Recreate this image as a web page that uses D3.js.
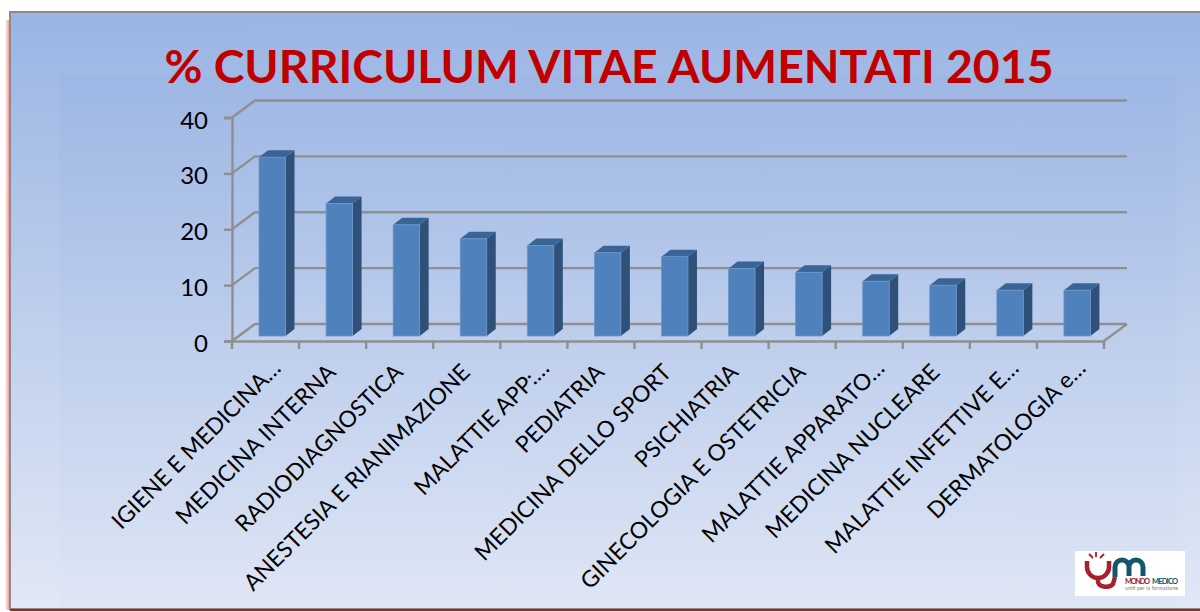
<!DOCTYPE html>
<html>
<head>
<meta charset="utf-8">
<script src="https://cdn.jsdelivr.net/npm/d3@7"></script>
<style>
  html, body { margin: 0; padding: 0; background: #fff; }
  svg { display: block; }
  text { font-family: Lato, "Open Sans", sans-serif; }
</style>
</head>
<body>
<div id="chart"></div>
<script>
const categories = ["IGIENE E MEDICINA…", "MEDICINA INTERNA", "RADIODIAGNOSTICA", "ANESTESIA E RIANIMAZIONE",
  "MALATTIE APP:…", "PEDIATRIA", "MEDICINA DELLO SPORT", "PSICHIATRIA", "GINECOLOGIA E OSTETRICIA",
  "MALATTIE APPARATO…", "MEDICINA NUCLEARE", "MALATTIE INFETTIVE E…", "DERMATOLOGIA e…"];
const values = [32, 23.7, 19.9, 17.4, 16.2, 14.9, 14.2, 12.1, 11.4, 9.8, 9.1, 8.2, 8.2];
const yTicks = [0, 10, 20, 30, 40];
const titleText = "% CURRICULUM VITAE AUMENTATI 2015";

const width = 1200, height = 612;
const plot = { left: 232, right: 1104, top: 117.5, bottom: 341 };
const depth = { x: 23, y: -17 };   // wall offset of the fake 3d box
const barDepth = { x: 9, y: -7 };
const axisColor = "#8f8f8f";
const axisWidth = 2.4;

const svg = d3.select("#chart").append("svg")
  .attr("width", width)
  .attr("height", height);

const defs = svg.append("defs");
const bg = defs.append("linearGradient").attr("id", "bg").attr("x1", 0).attr("y1", 0).attr("x2", 0).attr("y2", 1);
bg.append("stop").attr("offset", "0%").attr("stop-color", "#9ab4e3");
bg.append("stop").attr("offset", "100%").attr("stop-color", "#e1e8f6");
const inner = defs.append("linearGradient").attr("id", "inner").attr("x1", 0).attr("y1", 0).attr("x2", 0).attr("y2", 1);
inner.append("stop").attr("offset", "0%").attr("stop-color", "#9ab4e3");
inner.append("stop").attr("offset", "100%").attr("stop-color", "#dde5f5");
const glow = defs.append("linearGradient").attr("id", "glow").attr("x1", 0).attr("y1", 0).attr("x2", 1).attr("y2", 0);
glow.append("stop").attr("offset", "0%").attr("stop-color", "#ffffff");
glow.append("stop").attr("offset", "100%").attr("stop-color", "#f08080");

// slide background
svg.append("rect").attr("x", 5).attr("y", 20).attr("width", 5).attr("height", 590).attr("fill", "url(#glow)");
svg.append("rect").attr("x", 10).attr("y", 12).attr("width", 1195).attr("height", 597)
  .attr("fill", "url(#bg)").attr("stroke", "#8c8c8c").attr("stroke-width", 2);
svg.append("rect").attr("x", 10).attr("y", 609).attr("width", 1190).attr("height", 2).attr("fill", "#b51a1a");
svg.append("rect").attr("x", 59).attr("y", 76).attr("width", 1118).attr("height", 532).attr("fill", "url(#inner)").attr("opacity", 0.55);

svg.append("text")
  .attr("x", 609).attr("y", 83)
  .attr("text-anchor", "middle")
  .attr("font-size", 46.4).attr("font-weight", 700)
  .attr("fill", "#c00000")
  .text(titleText);

const x = d3.scaleBand().domain(categories).range([plot.left, plot.right]);
const y = d3.scaleLinear().domain([0, 40]).range([plot.bottom, plot.top]);

// back wall gridlines and the slanted connectors
const grid = svg.append("g").attr("fill", "none").attr("stroke", axisColor).attr("stroke-width", axisWidth);
yTicks.forEach(t => {
  grid.append("path").attr("d", d3.line()([
    [plot.left, y(t)],
    [plot.left + depth.x, y(t) + depth.y],
    [plot.right + depth.x, y(t) + depth.y]
  ]));
});
grid.append("path").attr("d", d3.line()([
  [plot.right, plot.bottom],
  [plot.right + depth.x, plot.bottom + depth.y]
]));

// axes
const yAxis = svg.append("g")
  .attr("transform", `translate(${plot.left},0)`)
  .call(d3.axisLeft(y).tickValues(yTicks).tickSize(8).tickPadding(16));
const xAxis = svg.append("g")
  .attr("transform", `translate(0,${plot.bottom})`)
  .call(d3.axisBottom(x).tickSize(0).tickFormat(""));
[yAxis, xAxis].forEach(a => {
  a.select(".domain").attr("stroke", axisColor).attr("stroke-width", axisWidth);
  a.selectAll("line").attr("stroke", axisColor).attr("stroke-width", axisWidth);
});
yAxis.selectAll("text").attr("font-size", 24).attr("fill", "#000").attr("dy", "0.44em");

// tick marks between the bands
svg.append("g").selectAll("line")
  .data(categories.concat(["end"]))
  .join("line")
  .attr("x1", (d, i) => i < categories.length ? x(d) : plot.right)
  .attr("x2", (d, i) => i < categories.length ? x(d) : plot.right)
  .attr("y1", plot.bottom)
  .attr("y2", plot.bottom + 8)
  .attr("stroke", axisColor).attr("stroke-width", axisWidth);

// rotated category labels, the truncated ones sit a bit further along
const labelShift = d => d.endsWith("…") ? 12 : 0;
svg.append("g").selectAll("text")
  .data(categories)
  .join("text")
  .attr("transform", d => `translate(${x(d) + x.bandwidth() / 2 - 1 + labelShift(d)},${plot.bottom + 27 - labelShift(d) / 3}) rotate(-45)`)
  .attr("text-anchor", "end")
  .attr("dy", "0.35em")
  .attr("font-size", 22.8)
  .attr("fill", "#000")
  .text(d => d);

// bars: front, side and top faces
const barW = 26.5;
const barX = d => x(d) + 27;
const barBase = plot.bottom - 5;
const barTop = (v) => barBase - (y(0) - y(v));
const bars = svg.append("g").selectAll("g")
  .data(categories.map((c, i) => ({ c, v: values[i] })))
  .join("g");

bars.append("path")
  .attr("fill", "#2f5078")
  .attr("d", d => {
    const l = barX(d.c) + barW, t = barTop(d.v);
    return d3.line()([[l, t], [l + barDepth.x, t + barDepth.y], [l + barDepth.x, barBase + barDepth.y], [l, barBase]]) + "Z";
  });
bars.append("path")
  .attr("fill", "#3b6496")
  .attr("d", d => {
    const l = barX(d.c), t = barTop(d.v);
    return d3.line()([[l, t], [l + barDepth.x, t + barDepth.y], [l + barW + barDepth.x, t + barDepth.y], [l + barW, t]]) + "Z";
  });
bars.append("rect")
  .attr("x", d => barX(d.c))
  .attr("y", d => barTop(d.v))
  .attr("width", barW)
  .attr("height", d => barBase - barTop(d.v))
  .attr("fill", "#4f81bd")
  .attr("stroke", "#6d97cb").attr("stroke-width", 0.8);

// logo
const logo = svg.append("g").attr("transform", "translate(1075,551)");
logo.append("rect").attr("width", 110).attr("height", 45).attr("fill", "#fff");
logo.append("path").attr("fill", "none").attr("stroke", "#a81f2e").attr("stroke-width", 4.5)
  .attr("d", "M12,10 V16 A11,11 0 0 0 34,16 V10 M23,27 V30 A8,5 0 0 0 38,33 L40,26");
logo.append("path").attr("fill", "none").attr("stroke", "#a81f2e").attr("stroke-width", 1.8)
  .attr("d", "M21,1 V6 M14,3 L18,7 M29,3 L25,7");
logo.append("path").attr("fill", "none").attr("stroke", "#14566b").attr("stroke-width", 5)
  .attr("d", "M40,26 V16 A7,7 0 0 1 54,16 V25 M54,16 A7,7 0 0 1 68,16 V25");
logo.append("text").attr("x", 50).attr("y", 33).attr("font-size", 7.5).attr("font-weight", 700).attr("fill", "#a81f2e")
  .attr("textLength", 25).text("MONDO");
logo.append("text").attr("x", 77).attr("y", 33).attr("font-size", 7.5).attr("font-weight", 700).attr("fill", "#14566b")
  .attr("textLength", 26).text("MEDICO");
logo.append("text").attr("x", 50).attr("y", 38.5).attr("font-size", 5).attr("fill", "#777")
  .attr("textLength", 53).text("uniti per la formazione");
</script>
</body>
</html>
